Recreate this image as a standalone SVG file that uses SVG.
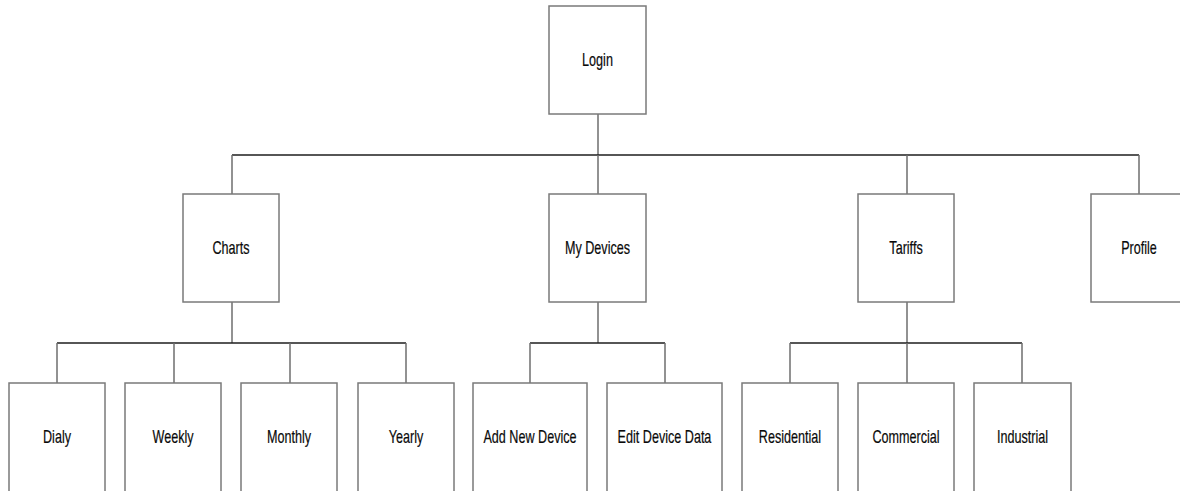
<svg xmlns="http://www.w3.org/2000/svg" width="1180" height="491" viewBox="0 0 1180 491">
  <style>
    .box { fill: #ffffff; stroke: #7a7a7a; stroke-width: 1.5; }
    .lbl { font-family: "Liberation Sans", Arial, sans-serif; font-size: 17.5px; fill: #0a0a0a; text-anchor: middle; dominant-baseline: central; stroke: #0a0a0a; stroke-width: 0.2; }
    .bus { stroke: #1e1e1e; stroke-width: 1.5; fill: none; }
    .drop { stroke: #6e6e6e; stroke-width: 1.5; fill: none; }
  </style>
  <rect width="1180" height="491" fill="#ffffff"/>

  <!-- connectors -->
  <g id="connectors">
    <!-- Login to top-level sections -->
    <line class="drop" x1="598" y1="114" x2="598" y2="155"/>
    <line class="bus" x1="232" y1="155" x2="1139" y2="155"/>
    <line class="drop" x1="232" y1="155" x2="232" y2="194"/>
    <line class="drop" x1="598" y1="155" x2="598" y2="194"/>
    <line class="drop" x1="907" y1="155" x2="907" y2="194"/>
    <line class="drop" x1="1139" y1="155" x2="1139" y2="194"/>

    <!-- Charts children -->
    <line class="drop" x1="232" y1="302" x2="232" y2="343"/>
    <line class="bus" x1="57" y1="343" x2="406" y2="343"/>
    <line class="drop" x1="57" y1="343" x2="57" y2="383"/>
    <line class="drop" x1="174" y1="343" x2="174" y2="383"/>
    <line class="drop" x1="290" y1="343" x2="290" y2="383"/>
    <line class="drop" x1="406" y1="343" x2="406" y2="383"/>

    <!-- My Devices children -->
    <line class="drop" x1="598" y1="302" x2="598" y2="343"/>
    <line class="bus" x1="530" y1="343" x2="665" y2="343"/>
    <line class="drop" x1="530" y1="343" x2="530" y2="383"/>
    <line class="drop" x1="665" y1="343" x2="665" y2="383"/>

    <!-- Tariffs children -->
    <line class="drop" x1="907" y1="302" x2="907" y2="343"/>
    <line class="bus" x1="790" y1="343" x2="1022" y2="343"/>
    <line class="drop" x1="790" y1="343" x2="790" y2="383"/>
    <line class="drop" x1="907" y1="343" x2="907" y2="383"/>
    <line class="drop" x1="1022" y1="343" x2="1022" y2="383"/>
  </g>

  <!-- level 0 (labels are horizontally condensed around their centre) -->
  <g id="login">
    <rect class="box" x="549" y="6" width="97" height="108"/>
    <text class="lbl" transform="translate(597.5 60) scale(0.72 1)">Login</text>
  </g>

  <!-- level 1 -->
  <g id="charts">
    <rect class="box" x="183" y="194" width="96" height="108"/>
    <text class="lbl" transform="translate(231 248) scale(0.72 1)">Charts</text>
  </g>
  <g id="my-devices">
    <rect class="box" x="549" y="194" width="97" height="108"/>
    <text class="lbl" transform="translate(597.5 248) scale(0.72 1)">My Devices</text>
  </g>
  <g id="tariffs">
    <rect class="box" x="858" y="194" width="96" height="108"/>
    <text class="lbl" transform="translate(906 248) scale(0.72 1)">Tariffs</text>
  </g>
  <g id="profile">
    <rect class="box" x="1091" y="194" width="96" height="108"/>
    <text class="lbl" transform="translate(1139 248) scale(0.72 1)">Profile</text>
  </g>

  <!-- level 2 -->
  <g id="daily">
    <rect class="box" x="9" y="383" width="96" height="110"/>
    <text class="lbl" transform="translate(57 437) scale(0.72 1)">Dialy</text>
  </g>
  <g id="weekly">
    <rect class="box" x="125" y="383" width="96" height="110"/>
    <text class="lbl" transform="translate(173 437) scale(0.72 1)">Weekly</text>
  </g>
  <g id="monthly">
    <rect class="box" x="241" y="383" width="96" height="110"/>
    <text class="lbl" transform="translate(289 437) scale(0.72 1)">Monthly</text>
  </g>
  <g id="yearly">
    <rect class="box" x="358" y="383" width="96" height="110"/>
    <text class="lbl" transform="translate(406 437) scale(0.72 1)">Yearly</text>
  </g>
  <g id="add-new-device">
    <rect class="box" x="473" y="383" width="114" height="110"/>
    <text class="lbl" transform="translate(530 437) scale(0.72 1)">Add New Device</text>
  </g>
  <g id="edit-device-data">
    <rect class="box" x="607" y="383" width="115" height="110"/>
    <text class="lbl" transform="translate(664.5 437) scale(0.72 1)">Edit Device Data</text>
  </g>
  <g id="residential">
    <rect class="box" x="742" y="383" width="96" height="110"/>
    <text class="lbl" transform="translate(790 437) scale(0.72 1)">Residential</text>
  </g>
  <g id="commercial">
    <rect class="box" x="858" y="383" width="96" height="110"/>
    <text class="lbl" transform="translate(906 437) scale(0.72 1)">Commercial</text>
  </g>
  <g id="industrial">
    <rect class="box" x="974" y="383" width="97" height="110"/>
    <text class="lbl" transform="translate(1022.5 437) scale(0.72 1)">Industrial</text>
  </g>
</svg>
